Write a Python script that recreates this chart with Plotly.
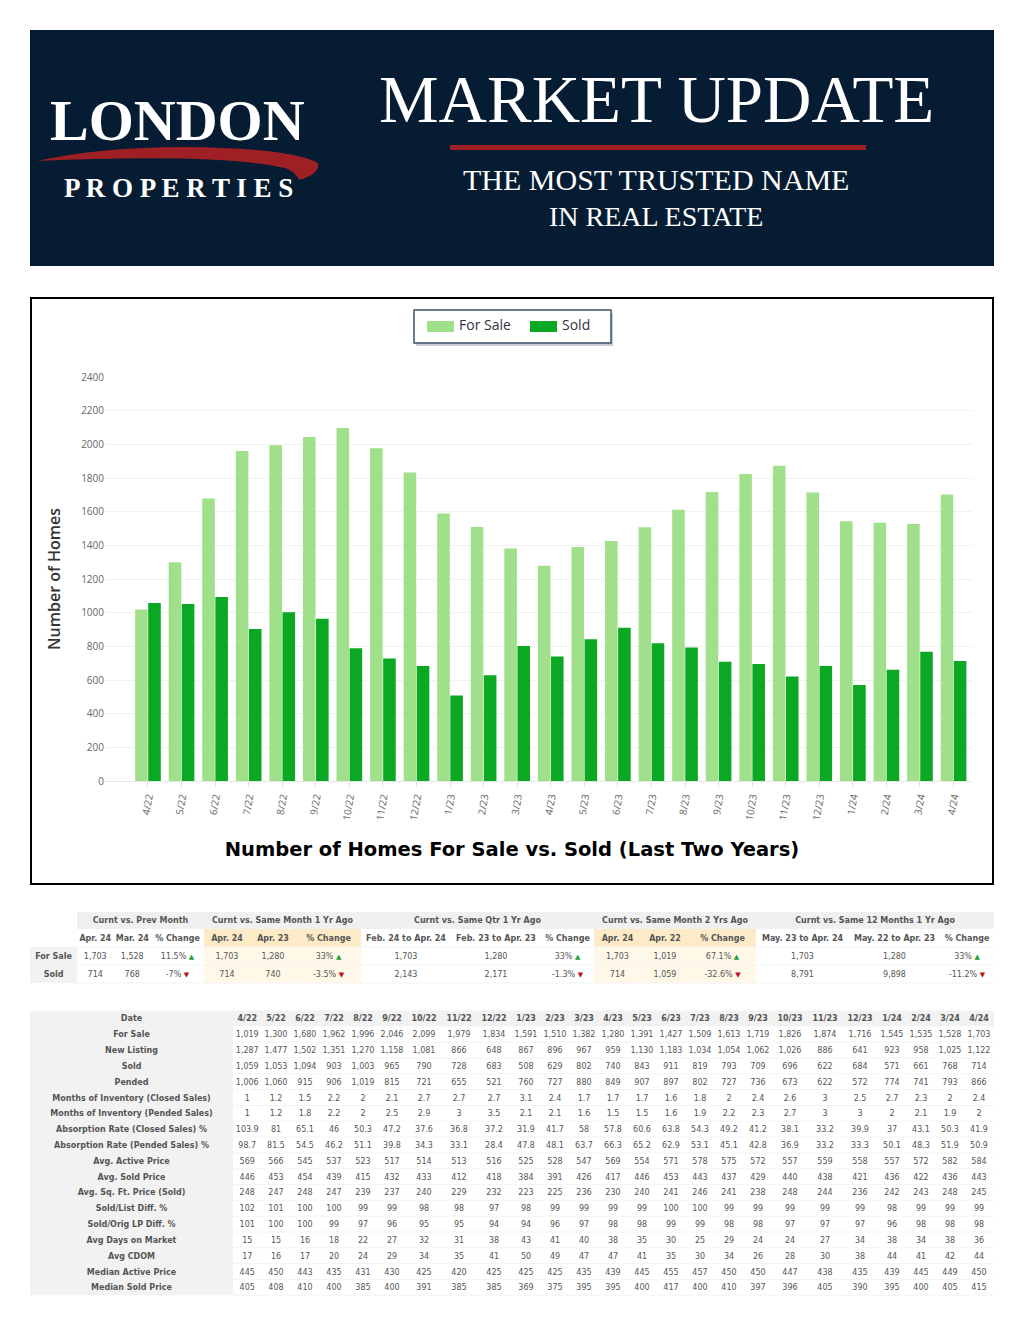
#!/usr/bin/python
import plotly.graph_objects as go

# Page size, everything below is laid out in page pixels
W = 1024
H = 1325

def px(x):
    return x / W

def py(y):
    return 1 - y / H

# Monthly data
dates = ["4/22","5/22","6/22","7/22","8/22","9/22","10/22","11/22","12/22","1/23","2/23","3/23","4/23",
         "5/23","6/23","7/23","8/23","9/23","10/23","11/23","12/23","1/24","2/24","3/24","4/24"]
for_sale = [1019,1300,1680,1962,1996,2046,2099,1979,1834,1591,1510,1382,1280,1391,1427,1509,1613,1719,1826,1874,1716,1545,1535,1528,1703]
new_listing = [1287,1477,1502,1351,1270,1158,1081,866,648,867,896,967,959,1130,1183,1034,1054,1062,1026,886,641,923,958,1025,1122]
sold = [1059,1053,1094,903,1003,965,790,728,683,508,629,802,740,843,911,819,793,709,696,622,684,571,661,768,714]
pended = [1006,1060,915,906,1019,815,721,655,521,760,727,880,849,907,897,802,727,736,673,622,572,774,741,793,866]
moi_closed = [1,1.2,1.5,2.2,2,2.1,2.7,2.7,2.7,3.1,2.4,1.7,1.7,1.7,1.6,1.8,2,2.4,2.6,3,2.5,2.7,2.3,2,2.4]
moi_pended = [1,1.2,1.8,2.2,2,2.5,2.9,3,3.5,2.1,2.1,1.6,1.5,1.5,1.6,1.9,2.2,2.3,2.7,3,3,2,2.1,1.9,2]
abs_closed = [103.9,81,65.1,46,50.3,47.2,37.6,36.8,37.2,31.9,41.7,58,57.8,60.6,63.8,54.3,49.2,41.2,38.1,33.2,39.9,37,43.1,50.3,41.9]
abs_pended = [98.7,81.5,54.5,46.2,51.1,39.8,34.3,33.1,28.4,47.8,48.1,63.7,66.3,65.2,62.9,53.1,45.1,42.8,36.9,33.2,33.3,50.1,48.3,51.9,50.9]
avg_active = [569,566,545,537,523,517,514,513,516,525,528,547,569,554,571,578,575,572,557,559,558,557,572,582,584]
avg_sold = [446,453,454,439,415,432,433,412,418,384,391,426,417,446,453,443,437,429,440,438,421,436,422,436,443]
avg_sqft = [248,247,248,247,239,237,240,229,232,223,225,236,230,240,241,246,241,238,248,244,236,242,243,248,245]
sold_list = [102,101,100,100,99,99,98,98,97,98,99,99,99,99,100,100,99,99,99,99,99,98,99,99,99]
sold_orig = [101,100,100,99,97,96,95,95,94,94,96,97,98,98,99,99,98,98,97,97,97,96,98,98,98]
avg_dom = [15,15,16,18,22,27,32,31,38,43,41,40,38,35,30,25,29,24,24,27,34,38,34,38,36]
avg_cdom = [17,16,17,20,24,29,34,35,41,50,49,47,47,41,35,30,34,26,28,30,38,44,41,42,44]
median_active = [445,450,443,435,431,430,425,420,425,425,425,435,439,445,455,457,450,450,447,438,435,439,445,449,450]
median_sold = [405,408,410,400,385,400,391,385,385,369,375,395,395,400,417,400,410,397,396,405,390,395,400,405,415]

detail_rows = [
    ("For Sale", for_sale),
    ("New Listing", new_listing),
    ("Sold", sold),
    ("Pended", pended),
    ("Months of Inventory (Closed Sales)", moi_closed),
    ("Months of Inventory (Pended Sales)", moi_pended),
    ("Absorption Rate (Closed Sales) %", abs_closed),
    ("Absorption Rate (Pended Sales) %", abs_pended),
    ("Avg. Active Price", avg_active),
    ("Avg. Sold Price", avg_sold),
    ("Avg. Sq. Ft. Price (Sold)", avg_sqft),
    ("Sold/List Diff. %", sold_list),
    ("Sold/Orig LP Diff. %", sold_orig),
    ("Avg Days on Market", avg_dom),
    ("Avg CDOM", avg_cdom),
    ("Median Active Price", median_active),
    ("Median Sold Price", median_sold),
]

# Summary table
summary_groups = ["Curnt vs. Prev Month", "Curnt vs. Same Month 1 Yr Ago", "Curnt vs. Same Qtr 1 Yr Ago",
                  "Curnt vs. Same Month 2 Yrs Ago", "Curnt vs. Same 12 Months 1 Yr Ago"]
summary_header = ["Apr. 24", "Mar. 24", "% Change", "Apr. 24", "Apr. 23", "% Change",
                  "Feb. 24 to Apr. 24", "Feb. 23 to Apr. 23", "% Change", "Apr. 24", "Apr. 22", "% Change",
                  "May. 23 to Apr. 24", "May. 22 to Apr. 23", "% Change"]
summary_for_sale = ["1,703","1,528","11.5%","1,703","1,280","33%","1,703","1,280","33%","1,703","1,019","67.1%","1,703","1,280","33%"]
summary_sold = ["714","768","-7%","714","740","-3.5%","2,143","2,171","-1.3%","714","1,059","-32.6%","8,791","9,898","-11.2%"]

NAVY = "#061c33"
RED = "#9e1f24"
TEXT = "#555555"
TABLE_FONT = "DejaVu Sans"
LABEL_FONT = "DejaVu Sans"

def change(s):
    if s.startswith("-"):
        return s + ' <span style="color:#c00d1a;font-size:7px">▼</span>'
    return s + ' <span style="color:#1aa33a;font-size:7px">▲</span>'

def centres(edges):
    return [(a + b) / 2 for a, b in zip(edges, edges[1:])]

fig = go.Figure()

# Bars
fig.add_bar(x=dates, y=for_sale, name="For Sale", marker_color="#a0e08a", marker_line_width=0)
fig.add_bar(x=dates, y=sold, name="Sold", marker_color="#0ba823", marker_line_width=0)

# Tables are text traces on a second pair of axes that runs in page pixels
cell_x, cell_y, cell_text = [], [], []

# Summary table
s_edges = [77, 113.5, 151, 204, 250, 296, 361, 451, 541, 594, 641, 689, 756, 849, 940, 994]
s_x = centres(s_edges)
s_rows = [929, 947, 965, 983]
group_spans = [(77, 204), (204, 361), (361, 594), (594, 756), (756, 994)]
for t, (a, b) in zip(summary_groups, group_spans):
    cell_x.append((a + b) / 2); cell_y.append(921); cell_text.append(f"<b>{t}</b>")
for x, t in zip(s_x, summary_header):
    cell_x.append(x); cell_y.append(939); cell_text.append(f"<b>{t}</b>")
for y, t, vals in [(957, "For Sale", summary_for_sale), (975, "Sold", summary_sold)]:
    cell_x.append(53.5); cell_y.append(y); cell_text.append(f"<b>{t}</b>")
    for i, (x, v) in enumerate(zip(s_x, vals)):
        cell_x.append(x); cell_y.append(y)
        cell_text.append(change(v) if i % 3 == 2 else v)

# Detail table
d_widths = [28.5] + [29] * 5 + [35] * 3 + [29] * 9 + [35] * 3 + [29] * 4
d_edges = [233]
for w in d_widths:
    d_edges.append(d_edges[-1] + w)
d_x = centres(d_edges)
ROW_H = 15.82
D_TOP = 1010.5
d_y = [D_TOP + 1 + ROW_H * (i + 0.5) for i in range(len(detail_rows) + 1)]

cell_x.append(131.5); cell_y.append(d_y[0]); cell_text.append("<b>Date</b>")
for x, d in zip(d_x, dates):
    cell_x.append(x); cell_y.append(d_y[0]); cell_text.append(f"<b>{d}</b>")
for y, (name, vals) in zip(d_y[1:], detail_rows):
    cell_x.append(131.5); cell_y.append(y); cell_text.append(f"<b>{name}</b>")
    for x, v in zip(d_x, vals):
        cell_x.append(x); cell_y.append(y); cell_text.append(f"{v:,}")

fig.add_scatter(x=cell_x, y=cell_y, text=cell_text, mode="text", xaxis="x2", yaxis="y2",
                textposition="middle center", hoverinfo="skip", cliponaxis=False,
                textfont=dict(family=TABLE_FONT, size=8, color=TEXT))

# Banner, chart frame, legend box etc.
def rect(x0, y0, x1, y1, fill, line=None, lw=0):
    return dict(type="rect", xref="paper", yref="paper", x0=px(x0), x1=px(x1), y0=py(y0), y1=py(y1),
                fillcolor=fill, line=dict(color=line, width=lw) if line else dict(width=0), layer="below")

swoosh_path = (f"M{px(37)},{py(161)} Q{px(100)},{py(147)} {px(184)},{py(147)} "
               f"Q{px(290)},{py(148)} {px(318)},{py(163)} Q{px(320)},{py(174)} {px(299)},{py(180)} "
               f"Q{px(296)},{py(172)} {px(285)},{py(168)} Q{px(220)},{py(153)} {px(37)},{py(161)} Z")

shapes = [
    rect(30, 30, 994, 266, NAVY),
    rect(450, 145, 866, 150, RED),
    dict(type="path", xref="paper", yref="paper", path=swoosh_path, fillcolor=RED, line=dict(width=0), layer="below"),
    rect(31, 298, 993, 884, "#ffffff", "#000000", 2),
    rect(416, 313, 613, 346, "#c9ced6"),
    rect(414, 310, 611, 343, "#ffffff", "#3d5068", 1.5),
    rect(427, 321, 454, 332, "#a0e08a"),
    rect(530, 321, 557, 332, "#0ba823"),
    # summary table fills
    rect(77, 912, 994, 929, "#f0f0f0"),
    rect(30, 947, 77, 983, "#f2f2f2"),
    rect(204, 929, 361, 947, "#fdebc8"),
    rect(204, 947, 361, 983, "#fff8e8"),
    rect(594, 929, 756, 947, "#fdebc8"),
    rect(594, 947, 756, 983, "#fff8e8"),
    # detail table fills
    rect(30, D_TOP, 994, D_TOP + ROW_H, "#f2f2f2"),
    rect(30, D_TOP, 233, D_TOP + ROW_H * 18, "#f2f2f2"),
]
for y in s_rows[1:]:
    shapes.append(rect(77, y - 0.5, 994, y + 0.5, "#f4f4f4"))
for i in range(2, 19):
    y = D_TOP + ROW_H * i
    shapes.append(rect(233, y - 0.5, 994, y + 0.5, "#f4f4f4"))

def label(text, x, y, family, size, color, bold=False, xanchor="center"):
    return dict(text=f"<b>{text}</b>" if bold else text, x=px(x), y=py(y), xref="paper", yref="paper",
                xanchor=xanchor, yanchor="middle", showarrow=False,
                font=dict(family=family, size=size, color=color))

serif = "Liberation Serif"
annotations = [
    label("LONDON", 177, 121, serif, 58, "#ffffff", bold=True),
    label("P R O P E R T I E S", 178, 188, serif, 27, "#ffffff", bold=True),
    label("MARKET UPDATE", 656, 99, serif, 67, "#ffffff"),
    label("THE MOST TRUSTED NAME", 656, 180, serif, 30, "#ffffff"),
    label("IN REAL ESTATE", 656, 216, serif, 28, "#ffffff"),
    label("For Sale", 457, 325, "Open Sans", 14, "#333344", xanchor="left"),
    label("Sold", 560, 325, "Open Sans", 14, "#333344", xanchor="left"),
]

fig.update_layout(
    width=W, height=H,
    margin=dict(l=0, r=0, t=0, b=0),
    paper_bgcolor="#ffffff", plot_bgcolor="rgba(0,0,0,0)",
    showlegend=False,
    barmode="group", bargap=0.22, bargroupgap=0.04,
    shapes=shapes, annotations=annotations,
    title=dict(text="<b>Number of Homes For Sale vs. Sold (Last Two Years)</b>",
               x=0.5, xanchor="center", y=py(849), yanchor="middle",
               font=dict(family=LABEL_FONT, size=19.5, color="#000000")),
    xaxis=dict(domain=[px(105), px(972)], type="category", range=[-1.28, 24.55],
               tickangle=-80, ticks="outside", ticklen=5, tickcolor="#dddddd",
               linecolor="#e6e6e6", showgrid=False, automargin=False,
               tickfont=dict(family="Open Sans", size=10, color="#666666")),
    yaxis=dict(domain=[py(781), py(377)], range=[0, 2402], dtick=200,
               gridcolor="#f2f2f2", zeroline=False, showline=False, automargin=False,
               tickfont=dict(family="Open Sans", size=10, color="#666666"),
               title=dict(text="Number of Homes", standoff=16,
                          font=dict(family="Open Sans", size=16, color="#333333", weight=600))),
    xaxis2=dict(domain=[0, 1], range=[0, W], visible=False, fixedrange=True, anchor="y2"),
    yaxis2=dict(domain=[0, 1], range=[H, 0], visible=False, fixedrange=True, anchor="x2"),
)

fig.write_html("out.html", config=dict(displayModeBar=False),
               post_script="document.body.style.margin='0';")
